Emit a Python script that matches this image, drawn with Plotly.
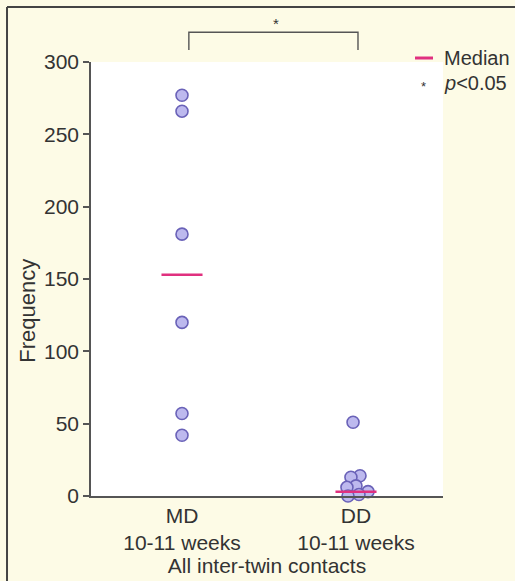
import plotly.graph_objects as go

# ---- data ----
categories = ["MD<br>10-11 weeks", "DD<br>10-11 weeks"]
md_values = [277, 266, 181, 120, 57, 42]
dd_values = [51, 14, 13, 7, 6, 3, 1, 0]
medians = [153, 3]
y_ticks = [0, 50, 100, 150, 200, 250, 300]

# swarm offsets (layout only, in category units) so overlapping dots are visible
md_jitter = [0, 0, 0, 0, 0, 0]
dd_jitter = [-0.017, 0.023, -0.029, 0.0, -0.052, 0.069, 0.017, -0.046]

FONT = "Liberation Sans, Arial, sans-serif"
TXT = "#333333"
AX = "#555555"
PINK = "#e0307f"
FILL = "#bdb9ee"
EDGE = "#6a62b8"
FS = 21

fig = go.Figure()

groups = [(md_values, md_jitter), (dd_values, dd_jitter)]
for i, (vals, jit) in enumerate(groups):
    pos = i + 1
    fig.add_trace(go.Scatter(
        x=[pos + j for j in jit], y=vals, mode="markers",
        marker=dict(size=12, color=FILL, line=dict(color=EDGE, width=1.6)),
        cliponaxis=False, showlegend=False, hoverinfo="y"))

for i, m in enumerate(medians):
    pos = i + 1
    fig.add_trace(go.Scatter(
        x=[pos - 0.118, pos + 0.118], y=[m, m], mode="lines",
        line=dict(color=PINK, width=2.5), cliponaxis=False,
        showlegend=False, hoverinfo="y"))

# outer frame
fig.add_shape(type="line", xref="paper", yref="paper",
              x0=-0.2386, x1=-0.2386, y0=1.1267, y1=-0.2, line=dict(color="#444", width=2))
fig.add_shape(type="line", xref="paper", yref="paper",
              x0=-0.2386, x1=1.25, y0=1.1267, y1=1.1267, line=dict(color="#444", width=2))

# significance bracket
bx0, bx1 = 0.278, 0.7585
by_top, by_bot = 1.0685, 1.0276
fig.add_shape(type="path", xref="paper", yref="paper",
              path=f"M {bx0} {by_bot} L {bx0} {by_top} L {bx1} {by_top} L {bx1} {by_bot}",
              line=dict(color="#555", width=1.4))
fig.add_annotation(text="*", xref="paper", yref="paper", x=0.5256, y=1.0876,
                   xanchor="center", yanchor="middle",
                   showarrow=False, font=dict(family=FONT, size=15, color=TXT))

# custom legend
fig.add_shape(type="line", xref="paper", yref="paper",
              x0=0.9205, x1=0.9716, y0=1.0092, y1=1.0092, line=dict(color=PINK, width=3))
fig.add_annotation(text="Median", xref="paper", yref="paper", x=0.997, y=1.0092,
                   xanchor="left", yanchor="middle", showarrow=False,
                   font=dict(family=FONT, size=20, color=TXT))
fig.add_annotation(text="*", xref="paper", yref="paper", x=0.946, y=0.9447,
                   xanchor="center", yanchor="middle", showarrow=False,
                   font=dict(family=FONT, size=13, color=TXT))
fig.add_annotation(text="<i>p</i>&lt;0.05", xref="paper", yref="paper", x=0.997, y=0.9516,
                   xanchor="left", yanchor="middle", showarrow=False,
                   font=dict(family=FONT, size=20, color=TXT))

# y-axis title (placed like the original, a little below the axis centre)
fig.add_annotation(text="Frequency", xref="paper", yref="paper", x=-0.1790, y=0.4270,
                   xanchor="center", yanchor="middle", textangle=-90, showarrow=False,
                   font=dict(family=FONT, size=22, color=TXT))

fig.update_layout(
    width=515, height=581,
    margin=dict(l=91, r=72, t=62, b=85, autoexpand=False),
    paper_bgcolor="#fdfbe6", plot_bgcolor="white",
    font=dict(family=FONT, size=FS, color=TXT),
    xaxis=dict(range=[0.477, 2.5], tickmode="array", tickvals=[1, 2], ticktext=categories,
               showgrid=False, zeroline=False, showline=True, linecolor=AX, linewidth=1.6,
               ticks="", tickfont=dict(size=FS, color=TXT),
               title=dict(text="All inter-twin contacts", font=dict(size=FS, color=TXT), standoff=0)),
    yaxis=dict(range=[0, 300], tickvals=y_ticks, showgrid=False, zeroline=False,
               showline=True, linecolor=AX, linewidth=1.6, ticks="outside", ticklen=6,
               tickwidth=1.5, tickcolor=AX, tickfont=dict(size=FS, color=TXT)),
)

fig.write_html("out.html", config={"displayModeBar": False},
               post_script="document.body.style.margin='0';document.body.style.overflow='hidden';")
